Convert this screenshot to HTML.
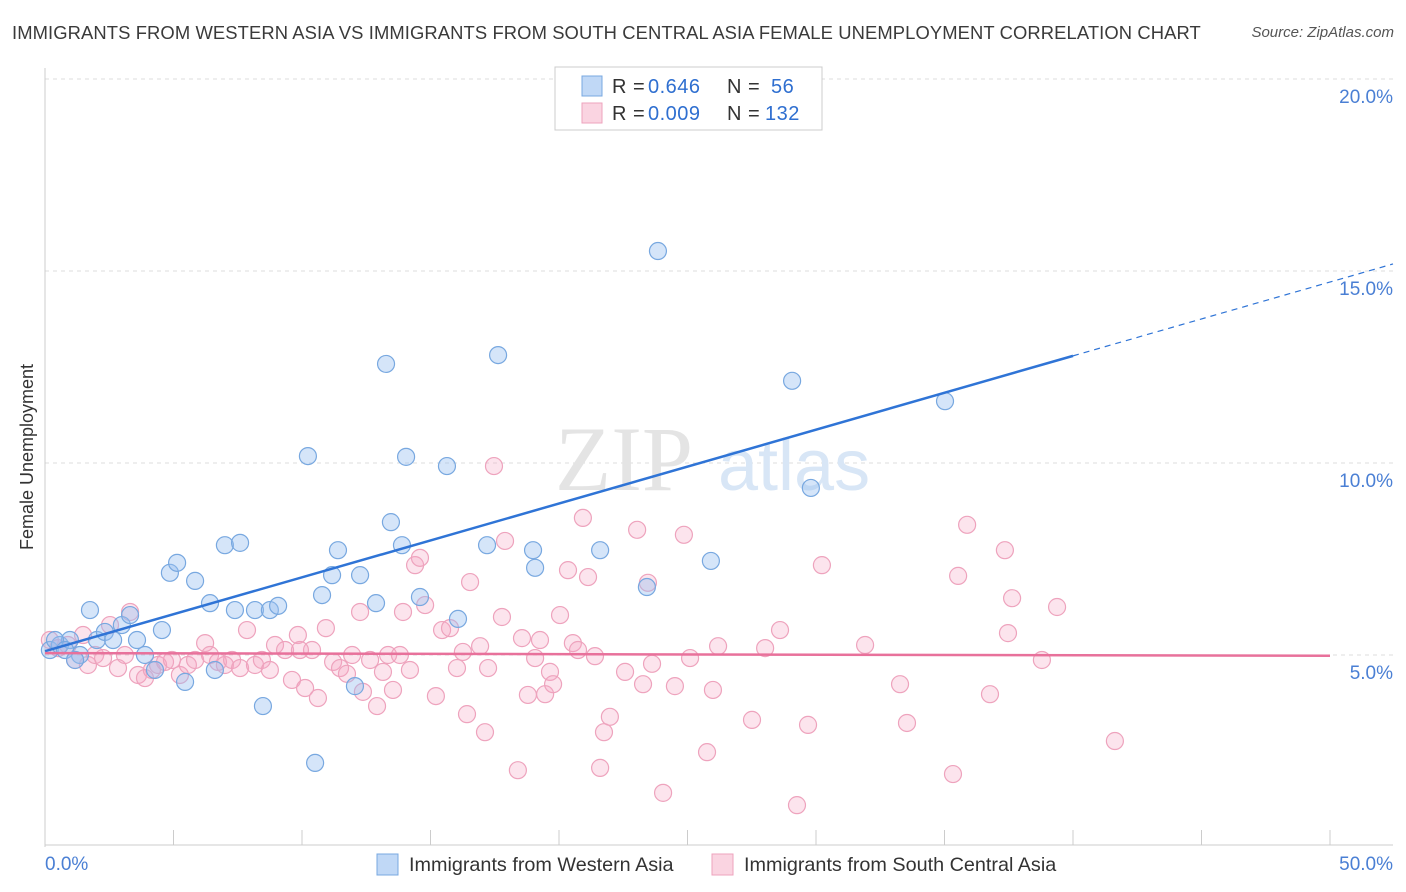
<!DOCTYPE html>
<html><head><meta charset="utf-8">
<style>
body{margin:0;background:#fff;font-family:"Liberation Sans",sans-serif;}
#wrap{position:relative;width:1406px;height:892px;overflow:hidden;}
.title{position:absolute;left:12px;top:22px;font-size:18.4px;color:#3a3a3a;letter-spacing:0.1px;white-space:nowrap;}
.source{position:absolute;right:12px;top:24px;font-size:15px;color:#555;font-style:italic;}
</style></head><body>
<div id="wrap">
<div class="title">IMMIGRANTS FROM WESTERN ASIA VS IMMIGRANTS FROM SOUTH CENTRAL ASIA FEMALE UNEMPLOYMENT CORRELATION CHART</div>
<div class="source">Source: ZipAtlas.com</div>
<svg id="svg" width="1406" height="892" style="position:absolute;left:0;top:0"></svg>
</div>
<script>
const yTicks=[5,10,15,20];
const yTickLabels=["5.0%","10.0%","15.0%","20.0%"];
const xEndLabels=["0.0%","50.0%"];
const blueX=[0.19,0.58,0.97,1.36,1.75,2.02,2.33,2.65,2.99,3.31,3.58,3.89,4.28,4.55,4.86,5.14,5.45,5.84,6.42,6.61,7.0,7.39,7.59,8.17,8.48,8.75,9.07,10.23,10.51,10.78,11.17,11.40,12.06,12.26,12.88,13.27,13.46,13.89,14.05,14.59,15.64,16.07,17.2,17.63,18.99,19.07,21.6,23.42,23.85,25.91,29.07,29.8,35.02,0.39,0.78,1.17];
const blueY=[5.13,5.26,5.39,5.0,6.17,5.39,5.6,5.39,5.78,6.04,5.39,5.0,4.61,5.65,7.14,7.4,4.3,6.93,6.35,4.61,7.86,6.17,7.92,6.17,3.67,6.17,6.28,10.18,2.19,6.56,7.08,7.73,4.19,7.08,6.35,12.58,8.46,7.86,10.16,6.51,9.92,5.94,7.86,12.81,7.73,7.27,7.73,6.77,15.52,7.45,12.14,9.35,11.61,5.39,5.13,4.87];
const pinkX=[0.19,0.51,0.89,1.17,1.48,1.67,1.95,2.26,2.53,2.84,3.11,3.31,3.62,3.89,4.16,4.40,4.67,4.94,5.25,5.56,5.84,6.23,6.42,6.73,7.0,7.28,7.59,7.86,8.17,8.44,8.75,8.95,9.34,9.61,9.84,10.12,10.39,10.62,10.93,11.21,11.48,11.75,11.95,12.26,12.37,12.65,12.92,13.15,13.35,13.54,13.93,14.2,14.4,14.59,14.79,15.21,15.45,15.76,16.03,16.26,16.42,16.54,16.93,17.12,17.24,17.47,17.78,17.9,18.4,18.56,18.79,19.07,19.26,19.46,19.65,19.77,20.04,20.35,20.54,20.74,20.93,21.13,21.4,21.6,21.75,21.98,22.57,23.04,23.27,23.46,23.62,24.05,24.51,24.86,25.1,25.76,25.99,26.19,27.51,28.02,28.6,29.26,29.69,30.23,31.91,33.27,33.54,35.33,35.53,35.88,36.77,37.35,37.47,37.63,38.79,39.38,41.63,9.92,13.81];
const pinkY=[5.39,5.18,5.26,4.87,5.52,4.74,5.0,4.92,5.78,4.66,5.0,6.12,4.48,4.4,4.61,4.74,4.82,4.87,4.48,4.74,4.87,5.31,5.0,4.82,4.74,4.87,4.66,5.65,4.74,4.87,4.61,5.26,5.13,4.35,5.52,4.14,5.13,3.88,5.7,4.82,4.66,4.51,5.0,6.12,4.04,4.87,3.67,4.56,5.0,4.09,6.12,4.61,7.34,7.53,6.3,3.93,5.65,5.7,4.66,5.08,3.46,6.9,5.23,2.99,4.66,9.92,5.99,7.97,2.0,5.44,3.96,4.92,5.39,3.98,4.56,4.24,6.04,7.21,5.31,5.13,8.57,7.03,4.97,2.06,2.99,3.39,4.56,8.26,4.24,6.88,4.77,1.41,4.19,8.13,4.92,2.47,4.09,5.23,3.31,5.18,5.65,1.09,3.18,7.34,5.26,4.24,3.23,1.9,7.06,8.39,3.98,7.73,5.57,6.48,4.87,6.25,2.76,5.13,5.0];
const blueTrend=[5.1,12.79];
const pinkTrend=[5.05,4.98];

const NS="http://www.w3.org/2000/svg";
const svg=document.getElementById('svg');
const X0=45,X1=1330,Y0=847,PY=38.4;
const sx=v=>X0+v*(X1-X0)/50;
const sy=v=>Y0-v*PY;
function mk(tag,attrs,parent){const e=document.createElementNS(NS,tag);for(const k in attrs)e.setAttribute(k,attrs[k]);(parent||svg).appendChild(e);return e;}

yTicks.forEach((t,i)=>{
  const g=mk('line',{x1:X0,x2:1393,y1:sy(t),y2:sy(t),stroke:'#ddd','stroke-dasharray':'4,4'});
  
  
  const tx=mk('text',{x:1393,y:sy(t)+24,'text-anchor':'end','font-size':19,fill:'#4a7fd4','font-family':'Liberation Sans'});
  tx.textContent=yTickLabels[i];
  
  
});
const ya=mk('line',{x1:X0,x2:X0,y1:68,y2:Y0,stroke:'#ccc'});


const xa=mk('line',{x1:X0,x2:1393,y1:845,y2:845,stroke:'#ccc'});


for(let i=0;i<=10;i++){
  const t=mk('line',{x1:sx(i*5),x2:sx(i*5),y1:830,y2:845,stroke:'#ccc'});
  
  
}
[[0,'start',45],[50,'end',1393]].forEach((d,i)=>{
  const t=mk('text',{x:d[2],y:870,'text-anchor':d[1],'font-size':19,fill:'#4a7fd4','font-family':'Liberation Sans'});
  t.textContent=xEndLabels[i];
  
  
});
const yt=mk('text',{x:33,y:457,'text-anchor':'middle','font-size':18,fill:'#333','font-family':'Liberation Sans',transform:'rotate(-90 33 457)'});
yt.textContent='Female Unemployment';


const wm=mk('text',{x:555,y:490,'font-size':92,fill:'#e4e4e4','font-family':'Liberation Serif'});
wm.textContent='ZIP';


const wm2=mk('text',{x:718,y:490,'font-size':72,fill:'#d8e6f6','font-family':'Liberation Sans'});
wm2.textContent='atlas';



const n1=Math.min(pinkX.length,pinkY.length);
for(let i=0;i<n1;i++){
  const c=mk('circle',{cx:sx(pinkX[i]),cy:sy(pinkY[i]),r:8.5,fill:'rgba(245,165,195,0.3)',stroke:'#eea3bd','stroke-width':1.2});
  
  
}
const n2=Math.min(blueX.length,blueY.length);
for(let i=0;i<n2;i++){
  const c=mk('circle',{cx:sx(blueX[i]),cy:sy(blueY[i]),r:8.5,fill:'rgba(150,190,240,0.4)',stroke:'#78a8e0','stroke-width':1.2});
  
  
}
const bAt=x=>blueTrend[0]+(blueTrend[1]-blueTrend[0])*x/40;
const bl=mk('line',{x1:sx(0),y1:sy(bAt(0)),x2:sx(40),y2:sy(bAt(40)),stroke:'#2f74d6','stroke-width':2.5});


const bd=mk('line',{x1:sx(40),y1:sy(bAt(40)),x2:1393,y2:sy(bAt((1393-X0)*50/(X1-X0))),stroke:'#2f74d6','stroke-width':1.2,'stroke-dasharray':'6,5'});


const pl=mk('line',{x1:sx(0),y1:sy(pinkTrend[0]),x2:sx(50),y2:sy(pinkTrend[1]),stroke:'#e8719b','stroke-width':2.5});



const lg=mk('rect',{x:555,y:67,width:267,height:63,fill:'#fff',stroke:'#ccc'});


[[0,'rgba(150,190,240,0.6)','#78a8e0','0.646','56'],[1,'rgba(245,170,195,0.5)','#eea3bd','0.009','132']].forEach(d=>{
  const y=76+d[0]*27;
  const r=mk('rect',{x:582,y:y,width:20,height:20,fill:d[1],stroke:d[2]});
  
  
  const t=mk('text',{x:612,y:y+17,'font-size':20,fill:'#333','font-family':'Liberation Sans','letter-spacing':'0.5'});
  t.innerHTML='R = <tspan fill="#2f6fd0" x="648">'+d[3]+'</tspan><tspan x="727">N = </tspan><tspan fill="#2f6fd0" x="'+(d[4].length==2?771:765)+'">'+d[4]+'</tspan>';
  
  
});
[[377,'rgba(150,190,240,0.6)','#78a8e0','Immigrants from Western Asia'],[712,'rgba(245,170,195,0.5)','#eea3bd','Immigrants from South Central Asia']].forEach(d=>{
  const r=mk('rect',{x:d[0],y:854,width:21,height:21,fill:d[1],stroke:d[2]});
  
  
  const t=mk('text',{x:d[0]+32,y:871,'font-size':19.8,fill:'#333','font-family':'Liberation Sans'});
  t.textContent=d[3];
  
  
});
</script>
</body></html>
